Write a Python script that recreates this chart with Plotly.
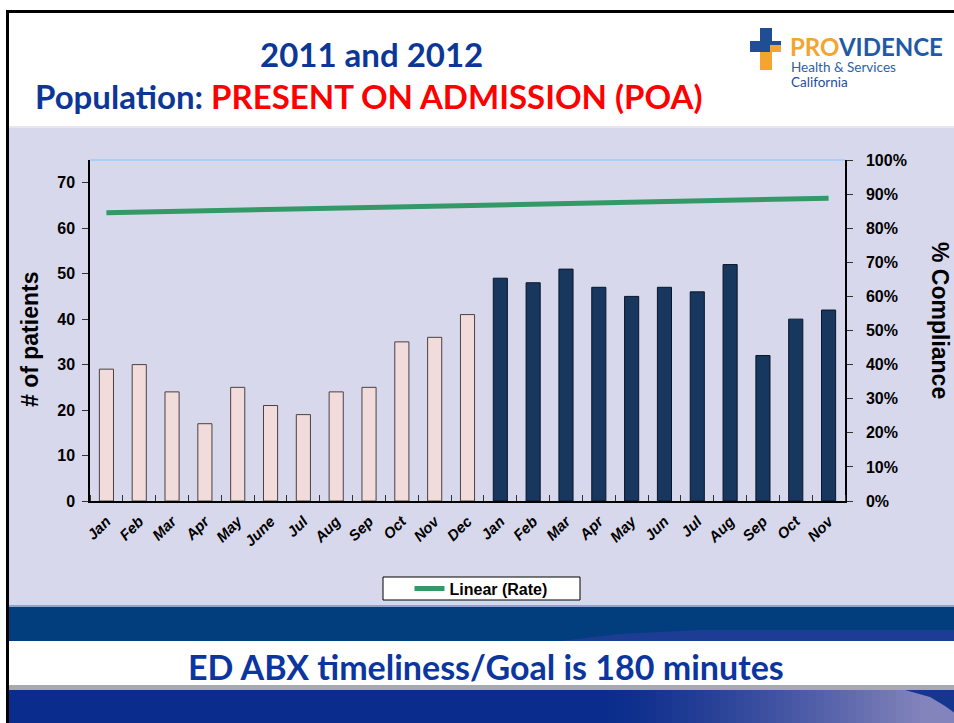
import plotly.graph_objects as go

# ── data ────────────────────────────────────────────────────────────────────
months_2011 = ["Jan", "Feb", "Mar", "Apr", "May", "June", "Jul", "Aug", "Sep", "Oct", "Nov", "Dec"]
months_2012 = ["Jan", "Feb", "Mar", "Apr", "May", "Jun", "Jul", "Aug", "Sep", "Oct", "Nov"]
patients_2011 = [29, 30, 24, 17, 25, 21, 19, 24, 25, 35, 36, 41]
patients_2012 = [49, 48, 51, 47, 45, 47, 46, 52, 32, 40, 42]
trend_rate = [84.5, 88.8]          # Linear (Rate) trend, % compliance at first / last month
left_ticks = [0, 10, 20, 30, 40, 50, 60, 70]
right_ticks = [0, 10, 20, 30, 40, 50, 60, 70, 80, 90, 100]
right_labels = [f"{v}%" for v in right_ticks]

labels = months_2011 + months_2012
pos = list(range(len(labels)))
pos_2011 = pos[:len(months_2011)]
pos_2012 = pos[len(months_2011):]

# plot area in page pixels
W, H = 954, 723
L, R, T, B = 90, 845, 160, 501


def px(x):
    return (x - L) / (R - L)


def py(y):
    return (B - y) / (B - T)


AX_FONT = dict(family="Arial, Liberation Sans", size=16, color="#000000", weight="bold")
HEAD = "Lato, Open Sans, sans-serif"
BLUE = "#0D3796"

fig = go.Figure()

fig.add_trace(go.Bar(
    x=pos_2011, y=patients_2011, name="2011",
    marker=dict(color="#F2DCDB", line=dict(color="#4A4040", width=1)),
    showlegend=False,
))
fig.add_trace(go.Bar(
    x=pos_2012, y=patients_2012, name="2012",
    marker=dict(color="#17375E", line=dict(color="#0A1628", width=1)),
    showlegend=False,
))
fig.add_trace(go.Scatter(
    x=[pos[0], pos[-1]], y=trend_rate, yaxis="y2",
    mode="lines", name="Linear (Rate)",
    line=dict(color="#339966", width=5),
))


def rect(x0, y0, x1, y1, fill, line=None, opacity=1.0):
    fig.add_shape(type="rect", xref="paper", yref="paper", layer="below",
                  x0=px(x0), x1=px(x1), y0=py(y0), y1=py(y1),
                  fillcolor=fill, opacity=opacity,
                  line=dict(width=1 if line else 0, color=line or fill))


def poly(points, fill, opacity=1.0):
    d = "M " + " L ".join(f"{px(x):.5f},{py(y):.5f}" for x, y in points) + " Z"
    fig.add_shape(type="path", xref="paper", yref="paper", layer="below", path=d,
                  fillcolor=fill, opacity=opacity, line=dict(width=0))


def mix(c1, c2, t):
    a = [int(c1[i:i + 2], 16) for i in (1, 3, 5)]
    b = [int(c2[i:i + 2], 16) for i in (1, 3, 5)]
    return "#" + "".join(f"{round(u + (v - u) * t):02x}" for u, v in zip(a, b))


# slide background pieces
rect(9, 127, W + 5, 606, "#D8D8EC")
rect(9, 126, W + 5, 128, "#E6E6EF")
rect(9, 605, W + 5, 607, "#8FA4CC")
rect(9, 607, W + 5, 641, "#023E7D")
poly([(560, 641), (620, 634), (700, 630), (W + 5, 630), (W + 5, 641)], "#2A3C9E", 0.7)
rect(9, 641, W + 5, 685, "#FFFFFF")
rect(9, 685, W + 5, 690, "#A8A8B0")
rect(9, 690, W + 5, H + 5, "#0A2C8C")
# swoosh at bottom right
step = 8
for x0 in range(600, W + 5, step):
    t = min(1.0, max(0.0, (x0 - 600) / 320)) ** 1.3
    rect(x0, 690, x0 + step + 1, H + 5, mix("#0A2C8C", "#8484BC", t))
poly([(905, 690), (930, 697), (945, 706), (W + 5, 716), (W + 5, 690)], "#15368F")
# slide frame
rect(6, 10, 9, H + 5, "#000000")
rect(6, 10, W + 5, 13, "#000000")
# legend box
rect(383, 577, 580, 600, "#FFFFFF", line="#000000")
# top edge of plot area
fig.add_shape(type="line", xref="paper", yref="paper", x0=0, x1=1, y0=1, y1=1,
              line=dict(color="#99CCFF", width=1.5))

# logo cross
rect(760, 28, 772, 52, "#1F4E96")
rect(750, 41, 781, 52, "#1F4E96")
rect(770, 45, 781, 52, "#F3A530")
rect(760, 52, 772, 70, "#F3A530")

ann = [
    dict(x=px(371), y=py(54), text="<b>2011 and 2012</b>",
         font=dict(family=HEAD, size=33, color=BLUE)),
    dict(x=px(33), y=py(96), xanchor="left",
         text="<b>Population: <span style='color:#FF0000'>PRESENT ON ADMISSION (POA)</span></b>",
         font=dict(family=HEAD, size=33, color=BLUE)),
    dict(x=px(486), y=py(666), text="<b>ED ABX timeliness/Goal is 180 minutes</b>",
         font=dict(family=HEAD, size=34, color="#0B36A0")),
    dict(x=px(788), y=py(46), xanchor="left",
         text="<b><span style='color:#F3A530'>PRO</span>VIDENCE</b>",
         font=dict(family=HEAD, size=24, color="#1F5AA6")),
    dict(x=px(789), y=py(67), xanchor="left", text="Health & Services",
         font=dict(family=HEAD, size=13.5, color="#2A62A8")),
    dict(x=px(789), y=py(82), xanchor="left", text="California",
         font=dict(family=HEAD, size=13.5, color="#1F4E96")),
    dict(x=px(30), y=py(340), text="# of patients", textangle=-90,
         font=dict(family="Arial, Liberation Sans", size=23, color="#000000", weight="bold")),
    dict(x=px(940), y=py(320), text="% Compliance", textangle=90,
         font=dict(family="Arial, Liberation Sans", size=23, color="#000000", weight="bold")),
]
for a in ann:
    a.setdefault("yanchor", "middle")
    a.setdefault("xanchor", "center")
    fig.add_annotation(xref="paper", yref="paper", showarrow=False, **a)

line_ax = dict(showline=True, linecolor="#000000", linewidth=1.5, showgrid=False, zeroline=False)

fig.update_layout(
    width=W, height=H, autosize=False,
    margin=dict(l=L, r=W - R, t=T, b=H - B, pad=0),
    paper_bgcolor="#FFFFFF", plot_bgcolor="rgba(0,0,0,0)",
    barmode="overlay", bargap=0.57,
    font=dict(family="Arial, Liberation Sans", color="#000000"),
    xaxis=dict(
        **line_ax, range=[-0.5, len(pos) - 0.5],
        tickmode="array", tickvals=pos, ticktext=labels, ticks="",
        tickangle=-45, ticklabelstandoff=4,
        tickfont=dict(family="Arial, Liberation Sans", size=15, color="#000000",
                      weight="bold", style="italic"),
        minor=dict(tickmode="array", tickvals=[p - 0.5 for p in pos] + [pos[-1] + 0.5],
                   ticks="inside", ticklen=6, tickcolor="#333333", tickwidth=1.2),
    ),
    yaxis=dict(
        **line_ax, range=[0, 75], tickmode="array", tickvals=left_ticks,
        ticks="outside", ticklen=6, tickwidth=1.2, tickcolor="#333333",
        tickfont=AX_FONT, ticklabelstandoff=4,
    ),
    yaxis2=dict(
        **line_ax, range=[0, 100], overlaying="y", side="right", anchor="x",
        tickmode="array", tickvals=right_ticks, ticktext=right_labels,
        ticks="outside", ticklen=6, tickwidth=1.2, tickcolor="#333333",
        tickfont=AX_FONT, ticklabelstandoff=10,
    ),
    yaxis3=dict(
        range=[0, 75], overlaying="y", side="left", anchor="x", showgrid=False, zeroline=False,
        tickmode="array", tickvals=left_ticks, ticks="inside", ticklen=6, tickwidth=1.2,
        tickcolor="#333333", showticklabels=False,
    ),
    yaxis4=dict(
        range=[0, 100], overlaying="y", side="right", anchor="x", showgrid=False, zeroline=False,
        tickmode="array", tickvals=right_ticks, ticks="inside", ticklen=6, tickwidth=1.2,
        tickcolor="#333333", showticklabels=False,
    ),
    showlegend=True,
    legend=dict(x=px(481), xanchor="center", y=py(588.5), yanchor="middle",
                bgcolor="rgba(0,0,0,0)", borderwidth=0, itemwidth=30,
                font=dict(family="Arial, Liberation Sans", size=16, color="#000000", weight="bold")),
)

fig.write_html("out.html", config={"displayModeBar": False},
               post_script="document.body.style.margin='0px';")
